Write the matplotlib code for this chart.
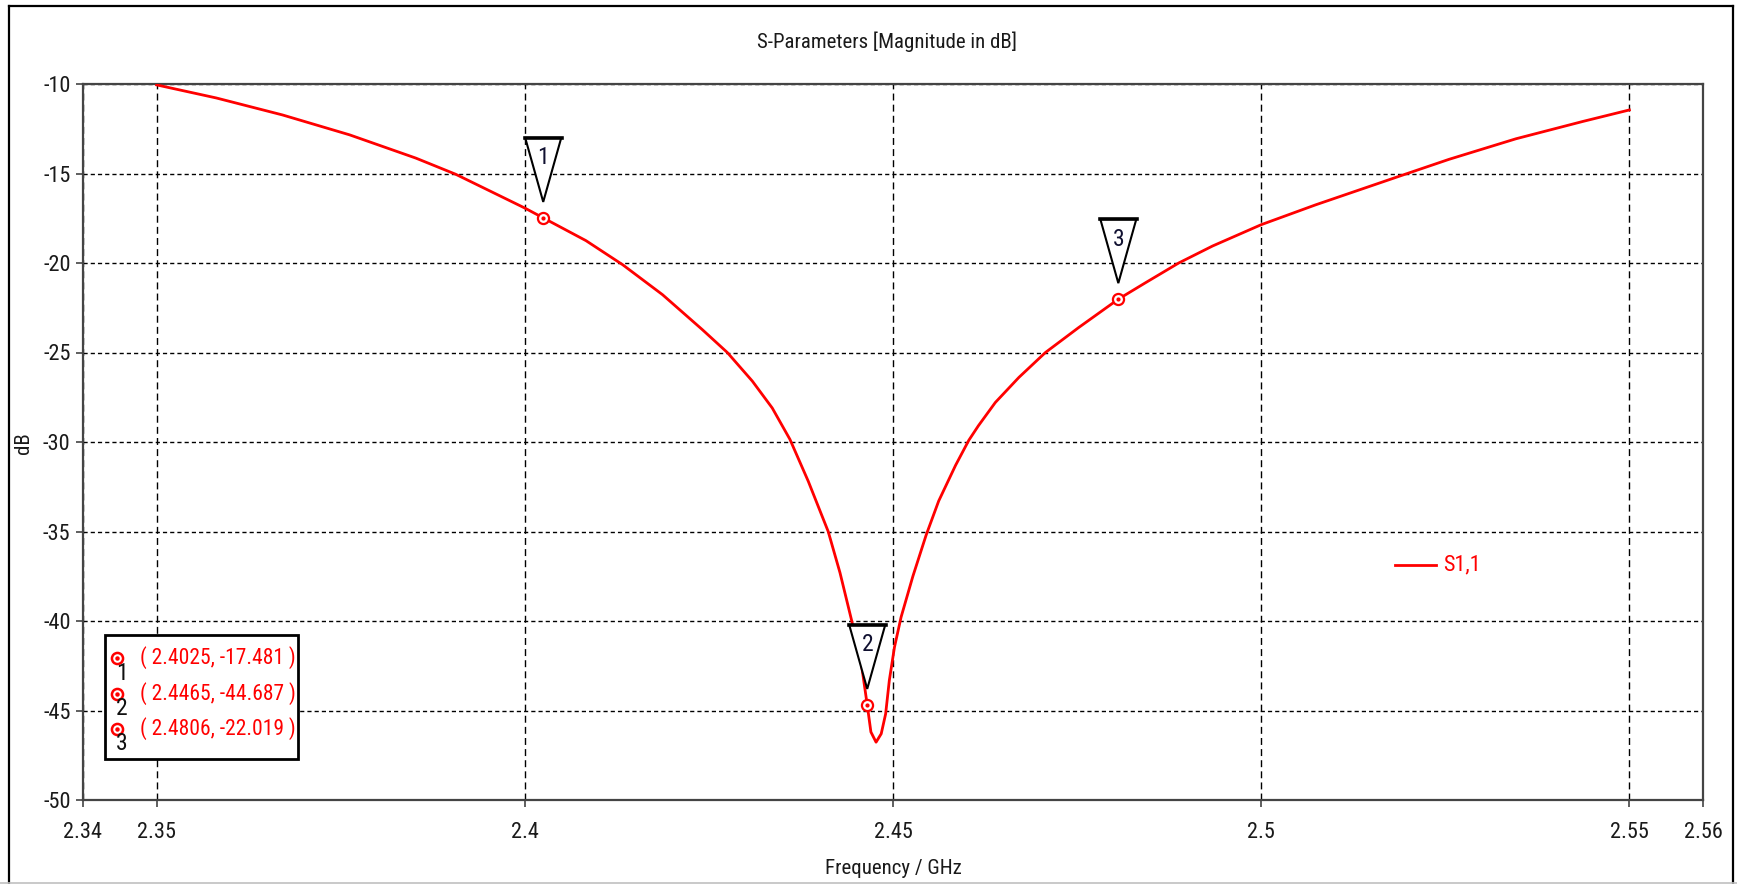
import matplotlib
matplotlib.use('Agg')
import matplotlib.pyplot as plt
import matplotlib.font_manager as fm
from matplotlib.patches import Polygon, Rectangle
from matplotlib.lines import Line2D
from matplotlib.transforms import ScaledTranslation

# ---------------- data ----------------
freq = [2.3500, 2.3581, 2.3671, 2.3762, 2.3852, 2.3906, 2.4000, 2.4025,
        2.4083, 2.4133, 2.4187, 2.4241, 2.4275, 2.4309, 2.4336, 2.4360,
        2.4385, 2.4412, 2.4428, 2.4444, 2.4457, 2.4465, 2.4470, 2.4477,
        2.4484, 2.4490, 2.4495, 2.4502, 2.4511, 2.4527, 2.4545, 2.4562,
        2.4585, 2.4603, 2.4616, 2.4639, 2.4671, 2.4707, 2.4752, 2.4806,
        2.4843, 2.4888, 2.4934, 2.5000, 2.5074, 2.5165, 2.5192, 2.5255,
        2.5346, 2.5437, 2.5500]
s11_db = [-10.05, -10.78, -11.73, -12.84, -14.14, -15.04, -16.93, -17.48,
          -18.75, -20.10, -21.77, -23.72, -25.00, -26.60, -28.10, -29.85,
          -32.20, -35.00, -37.30, -40.00, -42.39, -44.69, -46.20, -46.77,
          -46.30, -45.19, -43.32, -41.46, -39.78, -37.50, -35.20, -33.30,
          -31.30, -29.90, -29.09, -27.79, -26.39, -25.00, -23.61, -22.02,
          -21.10, -20.00, -19.05, -17.86, -16.75, -15.47, -15.09, -14.21,
          -13.06, -12.09, -11.45]

marker_ids = ['1', '2', '3']
marker_freq = [2.4025, 2.4465, 2.4806]
marker_db = [-17.481, -44.687, -22.019]
marker_texts = ['( 2.4025, -17.481 )', '( 2.4465, -44.687 )', '( 2.4806, -22.019 )']

xticks = [2.34, 2.35, 2.4, 2.45, 2.5, 2.55, 2.56]
xtick_labels = ['2.34', '2.35', '2.4', '2.45', '2.5', '2.55', '2.56']
yticks = [-10, -15, -20, -25, -30, -35, -40, -45, -50]
ytick_labels = ['-10', '-15', '-20', '-25', '-30', '-35', '-40', '-45', '-50']

series_name = 'S1,1'
title = 'S-Parameters [Magnitude in dB]'
xlabel = 'Frequency / GHz'
ylabel = 'dB'

# ---------------- fonts ----------------
avail = {f.name for f in fm.fontManager.ttflist}
FONT = 'DejaVu Sans'
for cand in ['Liberation Sans Narrow', 'Roboto Condensed', 'DejaVu Sans Condensed', 'Liberation Sans']:
    if cand in avail:
        FONT = cand
        break
plt.rcParams['font.family'] = [FONT, 'DejaVu Sans']
plt.rcParams['lines.scale_dashes'] = False

W, H = 1737, 884
fig = plt.figure(figsize=(W / 100, H / 100), dpi=100)
fig.patch.set_facecolor('white')


def fx(px):
    return px / W


def fy(py):
    return 1 - py / H


ax = fig.add_axes([fx(83), fy(800), 1620 / W, 716 / H])
ax.set_xlim(2.34, 2.56)
ax.set_ylim(-50, -10)

ax.set_xticks(xticks)
ax.set_xticklabels(xtick_labels)
ax.set_yticks(yticks)
ax.set_yticklabels(ytick_labels)

ax.xaxis.grid(True, color='black', lw=1.0, linestyle=(0, (5, 3)))
ax.yaxis.grid(True, color='black', lw=1.0, linestyle=(0, (3, 2.2)))
ax.set_axisbelow(True)

for s in ax.spines.values():
    s.set_color('#444444')
    s.set_linewidth(1.6)

ax.tick_params(axis='both', direction='out', length=5, width=1.2,
               color='#444444', labelcolor='#1a1a1a', labelsize=16)
ax.tick_params(axis='x', pad=11)
ax.tick_params(axis='y', pad=4)

# curve
ax.plot(freq, s11_db, color='#ff0000', lw=2.0, zorder=3)

# markers
ax.plot(marker_freq, marker_db, 'o', ms=8, mfc='white', mec='#ff0000',
        mew=1.6, zorder=4, clip_on=False)
ax.plot(marker_freq, marker_db, 'o', ms=2, color='#ff0000', zorder=4.5)

# triangle flags above markers (vertices in inches from the marker)
for mid, mx, my in zip(marker_ids, marker_freq, marker_db):
    tr = fig.dpi_scale_trans + ScaledTranslation(mx, my, ax.transData)
    verts = [(-0.18, 0.80), (0.18, 0.80), (0.0, 0.16)]
    ax.add_patch(Polygon(verts, closed=True, transform=tr, facecolor='white',
                         edgecolor='black', lw=1.5, zorder=5, clip_on=False))
    ax.add_line(Line2D([-0.185, 0.185], [0.80, 0.80], transform=tr,
                       color='black', lw=2.6, zorder=5.5, clip_on=False))
    ax.text(0.0, 0.60, mid, transform=tr, ha='center', va='center',
            fontsize=17, color='#101030', zorder=6, clip_on=False)

# marker table box
fig.add_artist(Rectangle((fx(105), fy(759)), 193 / W, 124 / H, fill=True,
                         facecolor='white', edgecolor='black', lw=2.0,
                         transform=fig.transFigure, zorder=10))
for i, (mid, txt) in enumerate(zip(marker_ids, marker_texts)):
    yc = 658 + 35.5 * i
    fig.add_artist(Line2D([fx(117)], [fy(yc)], marker='o', ms=8, mfc='white',
                          mec='#ff0000', mew=1.8, transform=fig.transFigure,
                          zorder=11))
    fig.add_artist(Line2D([fx(117)], [fy(yc)], marker='o', ms=2.2, color='#ff0000',
                          transform=fig.transFigure, zorder=11.5))
    fig.text(fx(122), fy(yc + 15), mid, ha='center', va='center', fontsize=17,
             color='#101010', zorder=12)
    fig.text(fx(140), fy(yc), txt, ha='left', va='center', fontsize=15.5,
             color='#ff0000', zorder=12)

# series legend
fig.add_artist(Line2D([fx(1395), fx(1436)], [fy(565), fy(565)], color='#ff0000',
                      lw=2.0, transform=fig.transFigure))
fig.text(fx(1443), fy(565), series_name, ha='left', va='center', fontsize=16,
         color='#ff0000')

# titles
fig.text(fx(887), fy(42), title, ha='center', va='center', fontsize=15,
         color='#1a1a1a')
fig.text(fx(893), fy(869), xlabel, ha='center', va='center', fontsize=15,
         color='#1a1a1a')
fig.text(fx(24), fy(443), ylabel, ha='center', va='center', fontsize=15,
         color='#1a1a1a', rotation=90)

# outer frame
fig.add_artist(Line2D([fx(9), fx(9)], [fy(884), fy(6)], color='black', lw=1.6))
fig.add_artist(Line2D([fx(9), fx(1733)], [fy(6), fy(6)], color='black', lw=1.6))
fig.add_artist(Line2D([fx(1733), fx(1733)], [fy(6), fy(884)], color='black', lw=1.6))
fig.add_artist(Line2D([fx(0), fx(1737)], [fy(883), fy(883)], color='#c0c0c0', lw=1.2))

fig.savefig('out.png', dpi=100, facecolor='white')
